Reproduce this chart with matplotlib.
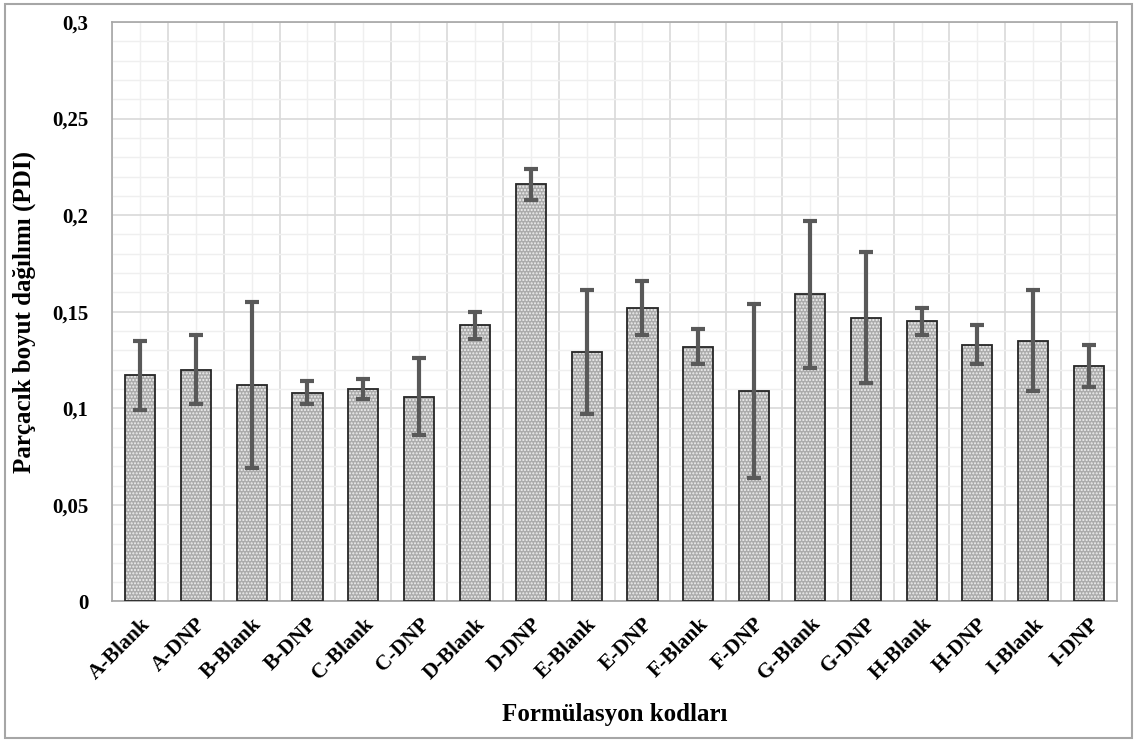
import matplotlib
matplotlib.use("Agg")
import matplotlib.pyplot as plt
from matplotlib.patches import Rectangle
from matplotlib.ticker import FixedLocator, MultipleLocator, FuncFormatter
import numpy as np

categories = ["A-Blank", "A-DNP", "B-Blank", "B-DNP", "C-Blank", "C-DNP",
              "D-Blank", "D-DNP", "E-Blank", "E-DNP", "F-Blank", "F-DNP",
              "G-Blank", "G-DNP", "H-Blank", "H-DNP", "I-Blank", "I-DNP"]
pdi = [0.117, 0.120, 0.112, 0.108, 0.110, 0.106,
       0.143, 0.216, 0.129, 0.152, 0.132, 0.109,
       0.159, 0.147, 0.145, 0.133, 0.135, 0.122]
pdi_err = [0.018, 0.018, 0.043, 0.006, 0.005, 0.020,
           0.007, 0.008, 0.032, 0.014, 0.009, 0.045,
           0.038, 0.034, 0.007, 0.010, 0.026, 0.011]

plt.rcParams['font.family'] = ['Liberation Serif', 'DejaVu Serif']
plt.rcParams['font.weight'] = 'bold'
plt.rcParams['hatch.linewidth'] = 1.0

fig = plt.figure(figsize=(11.34, 7.41), dpi=100)
ax = fig.add_axes([0.0988, 0.1883, 0.8862, 0.782])

x = np.arange(len(categories))
w = 0.54

# dotted texture, then outline
ax.bar(x, pdi, w, color='#ababab', edgecolor='#f0f0f0', hatch='.....', linewidth=0, zorder=2)
ax.bar(x, pdi, w, fill=False, edgecolor='#262626', linewidth=1.3, zorder=3)
ax.errorbar(x, pdi, yerr=pdi_err, fmt='none', ecolor='#595959', elinewidth=3,
            capsize=5, capthick=3, zorder=4)

ax.set_xlim(-0.5, len(categories) - 0.5)
ax.set_ylim(0, 0.3)

ax.yaxis.set_major_locator(MultipleLocator(0.05))
ax.yaxis.set_minor_locator(MultipleLocator(0.01))
ax.yaxis.set_major_formatter(FuncFormatter(lambda v, p: ('%g' % round(v, 3)).replace('.', ',')))
ax.set_xticks(x)
ax.set_xticklabels(categories, rotation=45, ha='right', rotation_mode='anchor', fontsize=15.5)
ax.xaxis.set_minor_locator(FixedLocator(np.arange(-0.5, len(categories), 1)))

ax.tick_params(axis='y', which='both', length=0, pad=17, labelsize=15)
ax.tick_params(axis='x', which='both', length=0, pad=9)

ax.yaxis.grid(True, which='major', color='#d9d9d9', linewidth=1.2, zorder=0)
ax.yaxis.grid(True, which='minor', color='#efefef', linewidth=1.0, zorder=0)
ax.xaxis.grid(True, which='minor', color='#d9d9d9', linewidth=1.2, zorder=0)
ax.xaxis.grid(True, which='major', color='#efefef', linewidth=1.0, zorder=0)
ax.set_axisbelow(True)

for s in ax.spines.values():
    s.set_color('#a6a6a6')
    s.set_linewidth(1.2)

ax.set_xlabel("Formülasyon kodları", fontsize=18, fontweight='bold', labelpad=14)
ax.set_ylabel("Parçacık boyut dağılımı (PDI)", fontsize=18, fontweight='bold', labelpad=12)

fig.patches.append(Rectangle((0.004, 0.004), 0.994, 0.991, transform=fig.transFigure,
                             fill=False, edgecolor='#a6a6a6', linewidth=1.5))

fig.savefig("out.png", dpi=100)
